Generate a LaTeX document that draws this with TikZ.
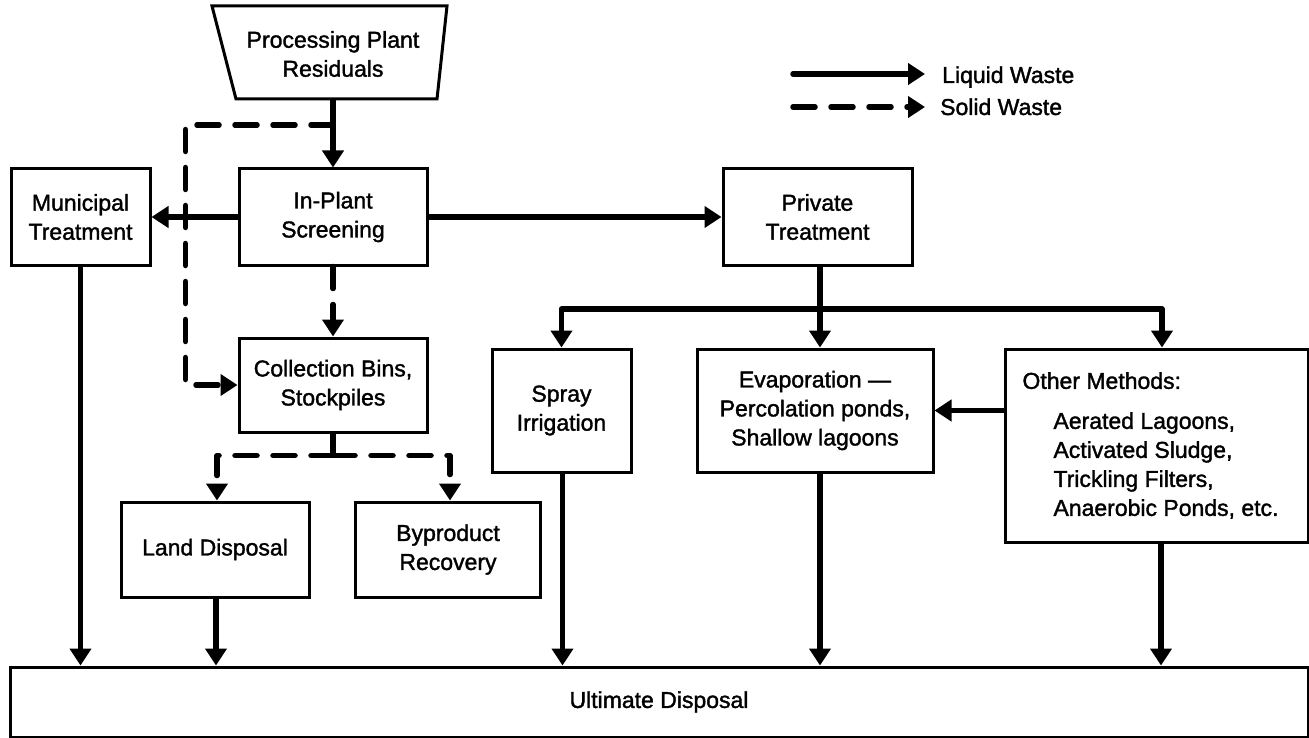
\documentclass[tikz,border=0pt]{standalone}
\usepackage{fontspec}
\setmainfont{Liberation Sans}[FakeBold=1.5]
\usetikzlibrary{arrows.meta,calc}
\begin{document}
\begin{tikzpicture}[x=1pt,y=-1pt,
  box/.style={draw, line width=3pt, align=center, inner sep=0pt, font=\fontsize{23}{29}\selectfont},
  liq/.style={line width=5.5pt, line join=round},
  liqa/.style={liq, -{Triangle[length=17pt,width=21pt]}},
  sol/.style={line width=5.5pt, line join=round, line cap=round, dash pattern=on 22pt off 16pt},
  sola/.style={sol, -{Triangle[length=17pt,width=21pt]}},
  lbl/.style={inner sep=0pt, font=\fontsize{23}{29}\selectfont}]
\useasboundingbox (0,0) rectangle (1309,738);
\fill[white] (0,0) rectangle (1309,738);

% source trapezoid
\draw[line width=3pt, line join=miter] (212,6) -- (447,6) -- (437,99) -- (236,99) -- cycle;
\node[lbl, align=center] (ppr) at (333,54) {Processing Plant\\Residuals};
\coordinate (pprb) at (333,99);

% boxes
\node[box, minimum width=188pt, minimum height=96pt] (inplant) at (333,217) {In-Plant\\Screening};
\node[box, minimum width=139pt, minimum height=96pt] (muni) at (80.5,217) {Municipal\\Treatment};
\node[box, minimum width=189pt, minimum height=97pt] (priv) at (817.5,217) {Private\\Treatment};
\node[box, minimum width=188pt, minimum height=94pt] (coll) at (333,385) {Collection Bins,\\Stockpiles};
\node[box, minimum width=188pt, minimum height=95pt] (land) at (215,549.5) {Land Disposal};
\node[box, minimum width=185pt, minimum height=95pt] (byp) at (448,549.5) {Byproduct\\Recovery};
\node[box, minimum width=139pt, minimum height=123pt] (spray) at (561.5,410.5) {Spray\\Irrigation};
\node[box, minimum width=236pt, minimum height=123pt] (evap) at (815,410.5) {Evaporation~---\\Percolation ponds,\\Shallow lagoons};
\node[box, minimum width=303pt, minimum height=193pt, align=left] (other) at (1156.5,445.5)
  {Other Methods:\\[11pt]\hspace*{31pt}Aerated Lagoons,\\\hspace*{31pt}Activated Sludge,\\\hspace*{31pt}Trickling Filters,\\\hspace*{31pt}Anaerobic Ponds, etc.\hspace*{12pt}};
\node[box, minimum width=1298pt, minimum height=70pt] (ult) at (659,702) {Ultimate Disposal};

% liquid waste connectors
\draw[liqa] (pprb) -- (inplant.north);
\draw[liqa] (inplant.west) -- (muni.east);
\draw[liqa] (inplant.east) -- (priv.west);
\coordinate (bus) at ($(priv.south)+(2.5,42)$);
\draw[liq] ([xshift=2.5pt]priv.south) -- (bus);
\draw[liqa] (bus) -| (spray.north);
\draw[liqa] (bus) -- (bus |- evap.north);
\draw[liqa] (bus) -| ([xshift=5.5pt]other.north);
\draw[liqa] (other.west |- evap.east) -- (evap.east);

\draw[liqa] (muni.south) -- (muni.south |- ult.north);
\draw[liqa] ([xshift=1pt]land.south) -- ([xshift=1pt]land.south |- ult.north);
\draw[liqa] ([xshift=1pt]spray.south) -- ([xshift=1pt]spray.south |- ult.north);
\draw[liqa] ([xshift=5pt]evap.south) -- ([xshift=5pt]evap.south |- ult.north);
\draw[liqa] ([xshift=4.5pt]other.south) -- ([xshift=4.5pt]other.south |- ult.north);

% solid waste connectors
\coordinate (dj) at (333,125);
\draw[sola] (dj) -| ([xshift=-52pt]coll.west) -- (coll.west);
\draw[sola] (inplant.south) -- (coll.north);
\coordinate (cj) at ($(coll.south)+(0,22)$);
\draw[liq] (coll.south) -- (cj);
\draw[sola] (cj) -| ([xshift=2pt]land.north);
\draw[sola] (cj) -| ([xshift=2pt]byp.north);

% legend
\coordinate (la) at (793,74);
\coordinate (lb) at (925,74);
\draw[liqa, line cap=round] (la) -- (lb);
\node[lbl, anchor=base west] (lt) at (942,83) {Liquid Waste};
\coordinate (sa) at (793,107);
\coordinate (sb) at (925,107);
\draw[sola] (sa) -- (sb);
\node[lbl, anchor=base west] (st) at (940,115) {Solid Waste};
\end{tikzpicture}
\end{document}
